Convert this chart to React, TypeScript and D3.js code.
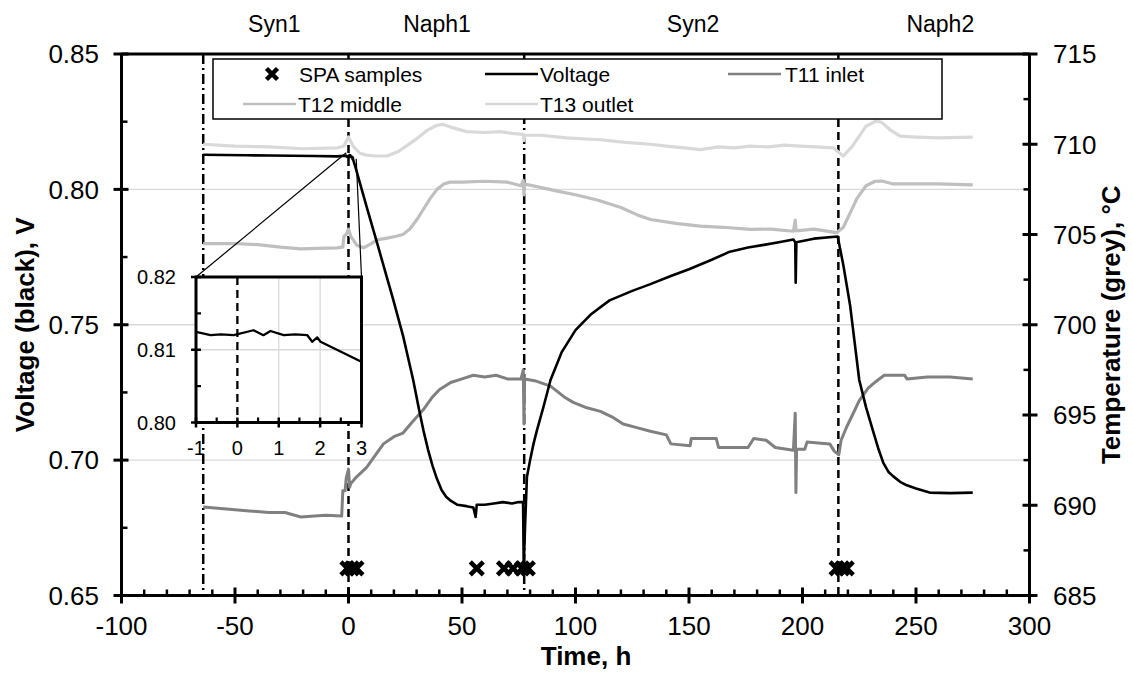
import React from 'react';
import * as d3 from 'd3';

// ---------- data ----------
const phaseNames = ['Syn1', 'Naph1', 'Syn2', 'Naph2'];
const phaseLabelTimes = [-32.7, 39, 151.8, 260.7];
const phaseBoundaries = [-64, 0, 77.4, 215.8];
const boundaryKinds = ['dashdot', 'dashed', 'dashdot', 'dashed'];

const xTicks = [-100, -50, 0, 50, 100, 150, 200, 250, 300];
const voltageTicks = [0.65, 0.7, 0.75, 0.8, 0.85];
const voltageTickLabels = ['0.65', '0.70', '0.75', '0.80', '0.85'];
const tempTicks = [685, 690, 695, 700, 705, 710, 715];
const insetXTicks = [-1, 0, 1, 2, 3];
const insetYTicks = [0.8, 0.81, 0.82];
const insetYTickLabels = ['0.80', '0.81', '0.82'];
const voltageGrid = [0.7, 0.75, 0.8];

const spaSampleTimes = [-0.5, 1.5, 3.5, 56.5, 68.5, 72.5, 76.5, 79, 215, 217.5, 219.5];
const spaSampleVoltage = 0.66;

const voltage: [number, number][] = [
  [-64, 0.8128], [-55, 0.8127], [-45, 0.8126], [-35, 0.8125], [-25, 0.8124], [-15, 0.8123], [-5, 0.8122],
  [-1, 0.81245], [-0.65, 0.812], [-0.4, 0.8121], [-0.09, 0.812], [0.39, 0.81268], [0.63, 0.812], [0.8, 0.81258],
  [1.12, 0.812], [1.4, 0.8121], [1.69, 0.812], [1.81, 0.8111], [1.93, 0.8117], [2.01, 0.8111], [3.02, 0.8083],
  [8, 0.7935], [13, 0.779], [19.7, 0.7593], [24, 0.746], [28.5, 0.7296], [31, 0.719], [33, 0.711], [35, 0.704],
  [37, 0.698], [39, 0.693], [41, 0.689], [43, 0.6865], [45, 0.685], [48, 0.6835], [52, 0.683], [55, 0.6825],
  [56, 0.679], [56.5, 0.6835], [60, 0.6835], [64, 0.684], [68, 0.6845], [72, 0.684], [75, 0.6845], [76.9, 0.6845],
  [77.2, 0.6605], [77.8, 0.676], [78.6, 0.6938], [80, 0.7], [81.5, 0.706], [83, 0.711], [86, 0.72], [89, 0.7296],
  [94, 0.74], [100, 0.748], [107, 0.754], [115, 0.759], [125, 0.7625], [133, 0.765], [142, 0.768], [150, 0.7705],
  [160, 0.774], [168, 0.777], [176, 0.7785], [183, 0.7795], [189, 0.7804], [196, 0.7815], [196.8, 0.7805],
  [197, 0.7655], [197.3, 0.7805], [205, 0.7818], [215.5, 0.7826], [218, 0.772], [221, 0.757], [225, 0.7296],
  [228, 0.7195], [231, 0.711], [233.5, 0.704], [235.6, 0.699], [238, 0.6955], [240, 0.694], [243, 0.692],
  [246, 0.6907], [250, 0.6895], [256, 0.688], [265, 0.6878], [275, 0.688],
];

const t11Inlet: [number, number][] = [
  [-64, 689.9], [-55, 689.8], [-45, 689.7], [-35, 689.6], [-28, 689.6], [-21, 689.35], [-15, 689.4], [-10, 689.45],
  [-3, 689.4], [-2.5, 690.8], [-1.5, 690.8], [-1, 691.5], [0, 692.0], [0.5, 691.0], [1, 691.2], [3, 691.5],
  [8, 692.1], [12, 692.8], [15.4, 693.4], [20, 693.8], [24, 694.0], [28, 694.6], [33, 695.3], [37, 696.0],
  [40, 696.4], [45, 696.8], [50, 697.0], [55, 697.2], [60, 697.1], [65, 697.2], [70, 697.0], [76, 697.0],
  [77, 697.5], [77.3, 694.5], [77.6, 697.0], [82, 696.9], [89, 696.6], [95, 696.0], [99, 695.7], [105, 695.4],
  [111, 695.2], [116, 694.9], [121, 694.5], [127, 694.3], [133, 694.1], [140, 693.9], [142, 693.4], [150.5, 693.3],
  [151, 693.7], [162, 693.7], [163, 693.2], [176, 693.2], [178.5, 693.7], [184, 693.6], [188, 693.2], [196, 693.05],
  [196.8, 695.1], [197.1, 690.7], [197.4, 693.1], [201, 693.1], [202, 693.5], [212, 693.4], [214, 693.0],
  [216, 692.8], [217, 693.6], [219.5, 694.35], [222, 695.0], [225, 695.8], [229, 696.5], [232.8, 696.9],
  [236, 697.2], [245, 697.2], [246, 697.0], [255, 697.1], [265, 697.1], [275, 697.0],
];

const t12Middle: [number, number][] = [
  [-64, 704.5], [-50, 704.5], [-40, 704.44], [-30, 704.3], [-21, 704.2], [-10, 704.25], [-5, 704.26], [-2.5, 704.3],
  [-2, 704.9], [-1, 705.0], [0, 705.3], [1, 704.9], [3.7, 704.4], [6.6, 704.26], [10, 704.5], [12.5, 704.7],
  [17, 704.8], [21, 704.9], [24, 705.0], [27, 705.3], [30, 705.8], [33, 706.4], [36, 707.0], [39, 707.5],
  [42, 707.8], [44.8, 707.9], [50, 707.9], [60, 707.95], [70, 707.9], [76, 707.7], [77, 708.0], [77.3, 707.2],
  [77.6, 707.8], [85, 707.6], [92, 707.4], [100, 707.2], [110, 706.9], [120, 706.5], [127, 706.1], [133, 705.83],
  [145, 705.6], [155, 705.46], [165, 705.4], [177, 705.28], [186, 705.3], [196, 705.18], [196.8, 705.8],
  [197.2, 705.2], [205, 705.3], [215, 705.1], [218, 705.4], [221, 706.2], [224, 707.0], [228, 707.7],
  [232, 707.95], [235, 707.96], [240, 707.8], [250, 707.8], [260, 707.8], [275, 707.75],
];

const t13Outlet: [number, number][] = [
  [-64, 710.0], [-50, 709.9], [-35, 709.85], [-20, 709.75], [-5, 709.8], [-2, 709.9], [0, 710.4], [2, 709.9],
  [5, 709.5], [8, 709.4], [12, 709.35], [17, 709.35], [22, 709.6], [26, 709.95], [30, 710.3], [35, 710.8],
  [39, 711.05], [41.7, 711.1], [45, 710.95], [52, 710.7], [60, 710.65], [67, 710.7], [72, 710.6], [77, 710.55],
  [77.3, 710.2], [77.6, 710.5], [85, 710.5], [96, 710.35], [111, 710.25], [122, 710.1], [133, 710.0], [140, 709.9],
  [148, 709.8], [155, 709.7], [163, 709.85], [170, 709.8], [177, 709.9], [185, 709.85], [192, 709.95], [199, 709.9],
  [206, 709.85], [213.5, 709.8], [218, 709.35], [222, 709.9], [228, 711.0], [232.7, 711.3], [235, 711.2],
  [238.6, 710.8], [243, 710.45], [250, 710.4], [260, 710.35], [275, 710.4],
];

const legendLabels = ['SPA samples', 'Voltage', 'T11 inlet', 'T12 middle', 'T13 outlet'];

// ---------- styles / layout ----------
const FONT = 'Liberation Sans, Arial, Helvetica, sans-serif';
const W = 1133, H = 675;
const L = 121.5, R = 1029.5, T = 54, B = 595.5;
const IL = 196, IR = 361.5, IT = 277, IB = 422.5;
const colV = '#000000', colT11 = '#808080', colT12 = '#bfbfbf', colT13 = '#d9d9d9';

export default function App() {
  const x = d3.scaleLinear().domain([-100, 300]).range([L, R]);
  const yV = d3.scaleLinear().domain([0.65, 0.85]).range([B, T]);
  const yT = d3.scaleLinear().domain([685, 715]).range([B, T]);
  const ix = d3.scaleLinear().domain([-1, 3]).range([IL, IR]);
  const iy = d3.scaleLinear().domain([0.8, 0.82]).range([IB, IT]);

  const vLine = d3.line<[number, number]>().x(d => x(d[0])).y(d => yV(d[1]));
  const tLine = d3.line<[number, number]>().x(d => x(d[0])).y(d => yT(d[1]));
  const iLine = d3.line<[number, number]>().x(d => ix(d[0])).y(d => iy(d[1]));

  const xMinor = d3.range(-100, 301, 10).filter(v => v % 50 !== 0);
  const vMinor = d3.range(0, 4).map(i => 0.675 + i * 0.05);
  const tMinor = d3.range(0, 6).map(i => 687.5 + i * 5);
  const ixMinor = [-0.5, 0.5, 1.5, 2.5];
  const iyMinor = [0.805, 0.815];

  const xMark = (cx: number, cy: number, s: number, w: number, key: string) => (
    <path key={key} d={`M${cx - s},${cy - s}L${cx + s},${cy + s}M${cx - s},${cy + s}L${cx + s},${cy - s}`}
      stroke="#000" strokeWidth={w} fill="none" />
  );

  const dash = (k: string) => (k === 'dashed' ? '8,5' : '10,4,2,4');

  // legend layout
  const legRow1 = 74, legRow2 = 104;
  const legendItems = [
    { label: legendLabels[0], kind: 'marker', x0: 272, tx: 299, y: legRow1, color: '#000' },
    { label: legendLabels[1], kind: 'line', x0: 485, tx: 540, y: legRow1, color: colV },
    { label: legendLabels[2], kind: 'line', x0: 728, tx: 785, y: legRow1, color: colT11 },
    { label: legendLabels[3], kind: 'line', x0: 243, tx: 298, y: legRow2, color: colT12 },
    { label: legendLabels[4], kind: 'line', x0: 485, tx: 540, y: legRow2, color: colT13 },
  ];

  return (
    <div style={{ position: 'absolute', left: 0, top: 0 }}>
      <svg width={W} height={H} style={{ display: 'block', background: '#fff' }} fontFamily={FONT}>
        <defs>
          <clipPath id="plotClip"><rect x={L} y={T} width={R - L} height={B - T} /></clipPath>
          <clipPath id="insetClip"><rect x={IL} y={IT} width={IR - IL} height={IB - IT} /></clipPath>
        </defs>

        {/* gridlines */}
        {voltageGrid.map(v => (
          <line key={'g' + v} x1={L} x2={R} y1={yV(v)} y2={yV(v)} stroke="#d9d9d9" strokeWidth={1.3} />
        ))}

        {/* phase boundaries */}
        {phaseBoundaries.map((t, i) => (
          <line key={'pb' + i} x1={x(t)} x2={x(t)} y1={T} y2={B} stroke="#000" strokeWidth={2.5}
            strokeDasharray={dash(boundaryKinds[i])} />
        ))}

        {/* series */}
        <g clipPath="url(#plotClip)" fill="none" strokeLinejoin="round">
          <path d={tLine(t13Outlet) || ''} stroke={colT13} strokeWidth={3.2} />
          <path d={tLine(t12Middle) || ''} stroke={colT12} strokeWidth={3.2} />
          <path d={tLine(t11Inlet) || ''} stroke={colT11} strokeWidth={3} />
          <path d={vLine(voltage) || ''} stroke={colV} strokeWidth={2.6} />
        </g>

        {/* SPA samples */}
        {spaSampleTimes.map((t, i) => xMark(x(t), yV(spaSampleVoltage), 6.5, 4.5, 'spa' + i))}

        {/* legend */}
        <rect x={213} y={59} width={729} height={60} fill="#fff" stroke="#000" strokeWidth={1.5} />
        {legendItems.map((it, i) => (
          <g key={'leg' + i}>
            {it.kind === 'marker'
              ? xMark(it.x0, it.y, 5.5, 4.5, 'lm')
              : <line x1={it.x0} x2={it.x0 + 53} y1={it.y} y2={it.y} stroke={it.color} strokeWidth={2.6} />}
            <text x={it.tx} y={it.y} dy="0.36em" fontSize={21} fill="#000">{it.label}</text>
          </g>
        ))}

        {/* frame & axes */}
        <line x1={L} x2={R} y1={T} y2={T} stroke="#000" strokeWidth={3} />
        <line x1={L} x2={R} y1={B} y2={B} stroke="#000" strokeWidth={3} />
        <line x1={L} x2={L} y1={T} y2={B} stroke="#000" strokeWidth={3} />
        <line x1={R} x2={R} y1={T} y2={B} stroke="#000" strokeWidth={3} />

        {xTicks.map(t => (
          <g key={'xt' + t}>
            <line x1={x(t)} x2={x(t)} y1={B - 8} y2={B + 8} stroke="#000" strokeWidth={3} />
            <text x={x(t)} y={635} textAnchor="middle" fontSize={26}>{t}</text>
          </g>
        ))}
        {xMinor.map(t => (
          <line key={'xm' + t} x1={x(t)} x2={x(t)} y1={B - 6} y2={B} stroke="#000" strokeWidth={2.5} />
        ))}
        {voltageTicks.map((v, i) => (
          <g key={'vt' + v}>
            <line x1={L - 8} x2={L + 7} y1={yV(v)} y2={yV(v)} stroke="#000" strokeWidth={3} />
            <text x={99} y={yV(v)} dy="0.36em" textAnchor="end" fontSize={26}>{voltageTickLabels[i]}</text>
          </g>
        ))}
        {vMinor.map(v => (
          <line key={'vm' + v} x1={L} x2={L + 6} y1={yV(v)} y2={yV(v)} stroke="#000" strokeWidth={2.5} />
        ))}
        {tempTicks.map(v => (
          <g key={'tt' + v}>
            <line x1={R - 7} x2={R + 8} y1={yT(v)} y2={yT(v)} stroke="#000" strokeWidth={3} />
            <text x={1053} y={yT(v)} dy="0.36em" textAnchor="start" fontSize={26}>{v}</text>
          </g>
        ))}
        {tMinor.map(v => (
          <line key={'tm' + v} x1={R - 6} x2={R} y1={yT(v)} y2={yT(v)} stroke="#000" strokeWidth={2.5} />
        ))}

        {/* phase labels */}
        {phaseNames.map((n, i) => (
          <text key={'pn' + n} x={x(phaseLabelTimes[i])} y={32} textAnchor="middle" fontSize={23}>{n}</text>
        ))}

        {/* axis titles */}
        <text x={586} y={665} textAnchor="middle" fontSize={26} fontWeight="bold">Time, h</text>
        <text transform={`translate(33.5,${(T + B) / 2}) rotate(-90)`} textAnchor="middle" fontSize={26}
          fontWeight="bold">Voltage (black), V</text>
        <text transform={`translate(1120,${(T + B) / 2}) rotate(-90)`} textAnchor="middle" fontSize={26}
          fontWeight="bold">Temperature (grey), °C</text>

        {/* inset */}
        <rect x={IL} y={IT} width={IR - IL} height={IB - IT} fill="#fff" />
        {[1, 2].map(t => (
          <line key={'igx' + t} x1={ix(t)} x2={ix(t)} y1={IT} y2={IB} stroke="#d9d9d9" strokeWidth={1.3} />
        ))}
        <line x1={IL} x2={IR} y1={iy(0.81)} y2={iy(0.81)} stroke="#d9d9d9" strokeWidth={1.3} />
        <line x1={ix(0)} x2={ix(0)} y1={IT} y2={IB} stroke="#000" strokeWidth={2.3} strokeDasharray="8,5" />
        <g clipPath="url(#insetClip)">
          <path d={iLine(voltage) || ''} stroke={colV} strokeWidth={2.3} fill="none" strokeLinejoin="round" />
        </g>
        <rect x={IL} y={IT} width={IR - IL} height={IB - IT} fill="none" stroke="#000" strokeWidth={3} />
        {insetXTicks.map(t => (
          <g key={'ixt' + t}>
            <line x1={ix(t)} x2={ix(t)} y1={IB - 5} y2={IB + 5} stroke="#000" strokeWidth={2.5} />
            <text x={ix(t)} y={455} textAnchor="middle" fontSize={20}>{t}</text>
          </g>
        ))}
        {ixMinor.map(t => (
          <line key={'ixm' + t} x1={ix(t)} x2={ix(t)} y1={IB - 5} y2={IB} stroke="#000" strokeWidth={2.2} />
        ))}
        {insetYTicks.map((v, i) => (
          <g key={'iyt' + v}>
            <line x1={IL - 5} x2={IL + 5} y1={iy(v)} y2={iy(v)} stroke="#000" strokeWidth={2.5} />
            <text x={176} y={iy(v)} dy="0.36em" textAnchor="end" fontSize={20}>{insetYTickLabels[i]}</text>
          </g>
        ))}
        {iyMinor.map(v => (
          <line key={'iym' + v} x1={IL} x2={IL + 5} y1={iy(v)} y2={iy(v)} stroke="#000" strokeWidth={2.2} />
        ))}

        {/* connectors */}
        <line x1={IL} y1={IT} x2={x(-1)} y2={yV(0.8135)} stroke="#000" strokeWidth={1.2} />
        <line x1={IR} y1={IT} x2={x(3.4)} y2={yV(0.8113)} stroke="#000" strokeWidth={1.2} />
      </svg>
    </div>
  );
}
